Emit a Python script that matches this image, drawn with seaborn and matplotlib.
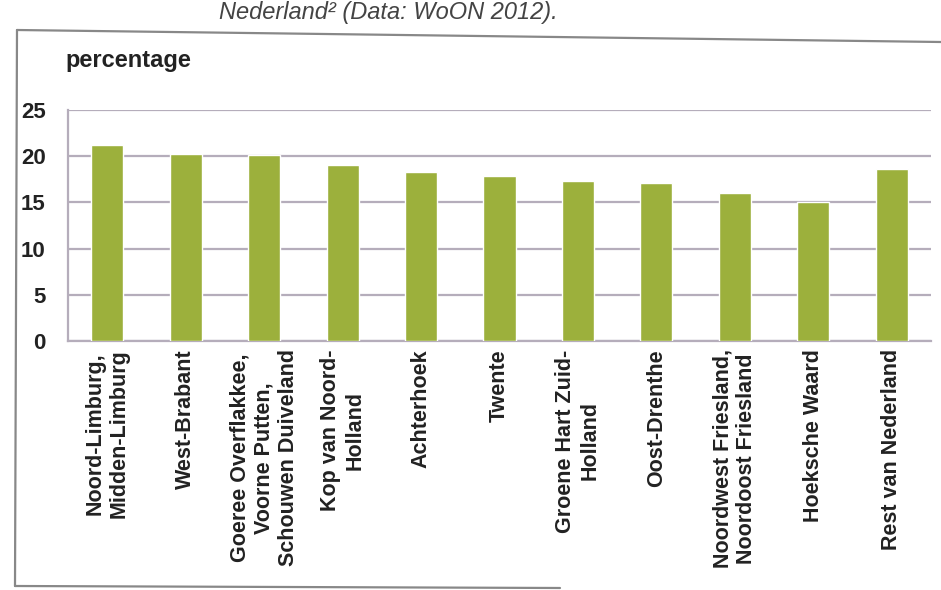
import matplotlib
matplotlib.use("Agg")
import matplotlib.pyplot as plt
import pandas as pd
import seaborn as sns
from matplotlib.lines import Line2D

# regions and share (percentage)
regions = [
    "Noord-Limburg,\nMidden-Limburg",
    "West-Brabant",
    "Goeree Overflakkee,\nVoorne Putten,\nSchouwen Duiveland",
    "Kop van Noord-\nHolland",
    "Achterhoek",
    "Twente",
    "Groene Hart Zuid-\nHolland",
    "Oost-Drenthe",
    "Noordwest Friesland,\nNoordoost Friesland",
    "Hoeksche Waard",
    "Rest van Nederland",
]
percentages = [21.2, 20.2, 20.1, 19.0, 18.3, 17.9, 17.3, 17.1, 16.0, 15.0, 18.6]
y_ticks = [0, 5, 10, 15, 20, 25]

BAR_COLOR = "#9cb03c"
GRID_COLOR = "#b5adbb"
W, H = 941, 590

sns.set_style("white")
plt.rcParams["font.family"] = ["Liberation Sans", "DejaVu Sans"]

df = pd.DataFrame({"region": regions, "pct": percentages})

fig = plt.figure(figsize=(W / 100, H / 100), dpi=100)
ax = fig.add_axes([68 / W, (H - 341) / H, (931 - 68) / W, (341 - 110) / H])

sns.barplot(data=df, x="region", y="pct", color=BAR_COLOR, width=0.41,
            saturation=1, ax=ax, zorder=3)

ax.set_ylim(0, 25)
ax.set_xlim(-0.5, len(regions) - 0.5)
ax.set_yticks(y_ticks)
ax.yaxis.grid(True, color=GRID_COLOR, linewidth=1.6)
ax.set_axisbelow(True)
ax.set_xlabel("")
ax.set_ylabel("")

for side in ["top", "right"]:
    ax.spines[side].set_visible(False)
for side in ["left", "bottom"]:
    ax.spines[side].set_color(GRID_COLOR)
    ax.spines[side].set_linewidth(1.6)

ax.tick_params(axis="y", direction="out", length=6, width=1.4, color=GRID_COLOR,
               pad=10, labelsize=16, labelcolor="#222222")
ax.tick_params(axis="x", length=0, pad=6)
for lab in ax.get_yticklabels():
    lab.set_fontweight("bold")
ax.set_xticks(range(len(regions)))
ax.set_xticklabels(regions, rotation=90, fontsize=15.5, fontweight="bold",
                   color="#222222", ha="center", va="top", multialignment="center",
                   linespacing=1.2)

# axis title above the plot
fig.text(65 / W, 1 - 60 / H, "percentage", ha="left", va="center",
         fontsize=17, fontweight="bold", color="#222222")

# caption at the top of the scan
fig.text(388 / W, 1 - 12 / H, "Nederland² (Data: WoON 2012).", ha="center",
         va="center", fontsize=17, style="italic", color="#444444")

# frame of the scanned chart
frame = dict(color="#888888", linewidth=1.6, transform=fig.transFigure)
fig.add_artist(Line2D([17 / W, 1], [1 - 30 / H, 1 - 42 / H], **frame))
fig.add_artist(Line2D([17 / W, 15 / W], [1 - 30 / H, 1 - 586 / H], **frame))
fig.add_artist(Line2D([15 / W, 560 / W], [1 - 586 / H, 1 - 588 / H], **frame))

fig.savefig("out.png", dpi=100)
